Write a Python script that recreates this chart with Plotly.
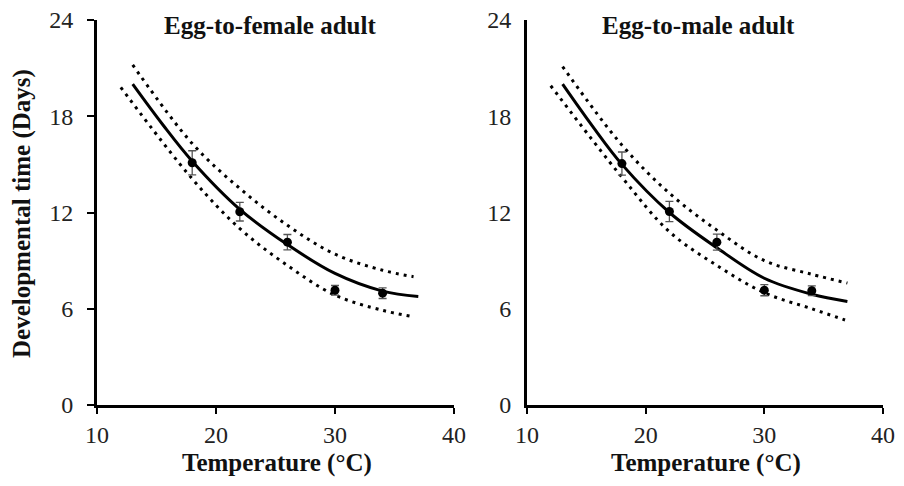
import plotly.graph_objects as go

# ---- observed data (developmental time, days) ----
temps = [18, 22, 26, 30, 34]
female_mean = [15.1, 12.05, 10.15, 7.15, 6.97]
female_err = [0.75, 0.58, 0.48, 0.3, 0.33]
male_mean = [15.05, 12.06, 10.15, 7.16, 7.12]
male_err = [0.72, 0.63, 0.5, 0.35, 0.3]

# ---- fitted curve and confidence bands ----
f_fit_x = [13, 15.5, 18, 22, 26, 30, 34, 37]
f_fit_y = [20.0, 17.5, 15.2, 12.2, 10.0, 8.2, 7.1, 6.77]
f_up_x = [13, 18, 22, 26, 30, 34, 36.6]
f_up_y = [21.2, 16.3, 13.5, 11.2, 9.4, 8.4, 8.0]
f_lo_x = [12, 18, 22, 26, 30, 34, 36.6]
f_lo_y = [19.8, 14.1, 11.0, 8.7, 6.85, 5.9, 5.5]

m_fit_x = [13, 15.5, 18, 22, 26, 30, 34, 37]
m_fit_y = [20.0, 17.4, 15.0, 12.0, 9.8, 7.9, 6.9, 6.45]
m_up_x = [13, 18, 22, 26, 30, 34, 37]
m_up_y = [21.1, 16.2, 13.2, 10.9, 9.0, 8.15, 7.6]
m_lo_x = [12, 18, 22, 26, 30, 34, 36.8]
m_lo_y = [19.9, 14.2, 10.8, 8.7, 7.0, 6.0, 5.3]

x_ticks = [10, 20, 30, 40]
y_ticks = [0, 6, 12, 18, 24]
panel_titles = ["Egg-to-female adult", "Egg-to-male adult"]
x_title = "Temperature (°C)"
y_title = "Developmental time (Days)"

FONT = "Liberation Serif, Times New Roman, serif"
# the page has an 8px body margin; size the figure so it fits the 904x486 window without scrollbars
OFF = 8
W, H = 904 - 2 * OFF, 486 - 2 * OFF

def px(x):
    return (x - OFF) / W

def py(y):
    return 1 - (y - OFF) / H

fig = go.Figure()

def add_panel(xa, ya, fx, fy, ux, uy, lx, ly, mean, err):
    for bx, by in ((ux, uy), (lx, ly)):
        fig.add_trace(go.Scatter(x=bx, y=by, mode="lines",
                                 line=dict(color="black", width=3, dash="3px,5px", shape="spline"),
                                 xaxis=xa, yaxis=ya, showlegend=False, hoverinfo="skip"))
    fig.add_trace(go.Scatter(x=fx, y=fy, mode="lines", line=dict(color="black", width=3, shape="spline"),
                             xaxis=xa, yaxis=ya, showlegend=False))
    fig.add_trace(go.Scatter(x=temps, y=mean, mode="markers",
                             marker=dict(color="black", size=9),
                             error_y=dict(type="data", array=err, color="#555555", thickness=1.3, width=4),
                             xaxis=xa, yaxis=ya, showlegend=False))

add_panel("x", "y", f_fit_x, f_fit_y, f_up_x, f_up_y, f_lo_x, f_lo_y, female_mean, female_err)
add_panel("x2", "y2", m_fit_x, m_fit_y, m_up_x, m_up_y, m_lo_x, m_lo_y, male_mean, male_err)

ydom = [py(405), py(20)]
axis_common = dict(showgrid=False, zeroline=False, showline=True, linecolor="black", linewidth=3,
                   tickfont=dict(family=FONT, size=24, color="#222"), automargin=False,
                   ticklabeloverflow="allow")

fig.update_layout(
    width=W, height=H,
    margin=dict(l=0, r=0, t=0, b=0),
    paper_bgcolor="white", plot_bgcolor="white",
    xaxis=dict(domain=[px(97), px(454)], range=[10, 40], tickvals=x_ticks, ticks="outside", ticklen=6,
               tickwidth=2, tickcolor="black", anchor="y", **axis_common),
    yaxis=dict(domain=ydom, range=[0, 24], tickvals=y_ticks, ticks="outside", ticklen=7,
               tickwidth=2, tickcolor="black", ticklabelstandoff=9, anchor="x", **axis_common),
    xaxis2=dict(domain=[px(527), px(883)], range=[10, 40], tickvals=x_ticks, ticks="outside", ticklen=6,
                tickwidth=2, tickcolor="black", anchor="y2", **axis_common),
    yaxis2=dict(domain=ydom, range=[0, 24], tickvals=y_ticks, ticks="", ticklabelstandoff=8,
                anchor="x2", **axis_common),
)

def label(text, x, y, angle=0):
    return dict(text="<b>%s</b>" % text, x=px(x), y=py(y), xref="paper", yref="paper", textangle=angle,
                showarrow=False, font=dict(family=FONT, size=25, color="#111"),
                xanchor="center", yanchor="middle")

fig.update_layout(annotations=[
    label(panel_titles[0], 270, 25),
    label(panel_titles[1], 698, 26),
    label(x_title, 277, 463),
    label(x_title, 706, 463),
    label(y_title, 22, 214, -90),
])

fig.write_html("out.html")
